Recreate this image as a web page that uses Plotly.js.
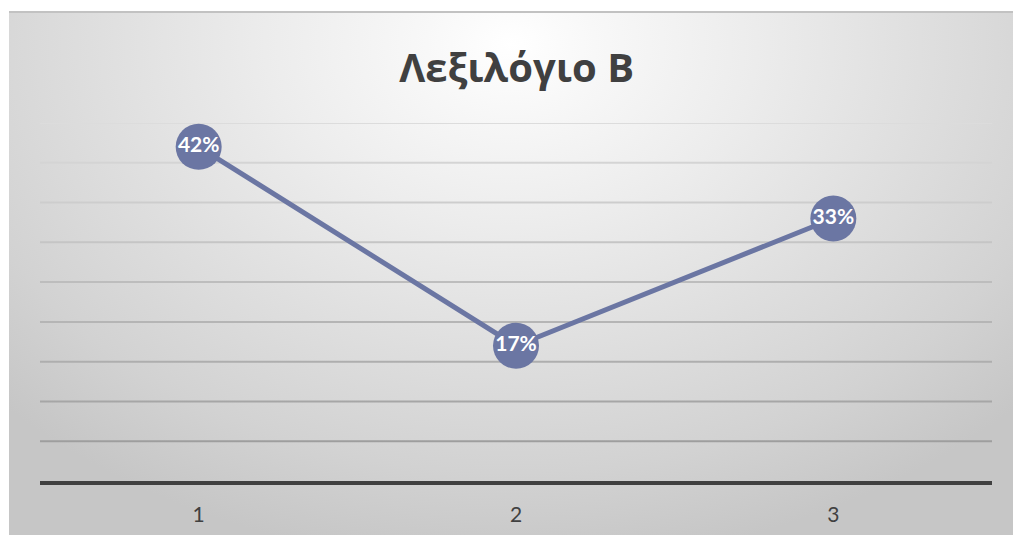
<!DOCTYPE html>
<html>
<head>
<meta charset="utf-8">
<script src="https://cdn.plot.ly/plotly-3.0.1.min.js"></script>
<style>
  html, body { margin: 0; padding: 0; background: #ffffff; }
  #wrap { position: relative; width: 1013px; height: 535px; overflow: hidden; }
  #bg {
    position: absolute; left: 9px; top: 11px; right: 0; bottom: 0;
    border-top: 2px solid #c2c2c2;
    background: radial-gradient(ellipse 70% 100% at 50% 6%,
      #ffffff 0%, #f8f8f8 12%, #ececec 35%, #dedede 60%, #d2d2d2 82%, #c6c6c6 100%);
  }
  #chart { position: absolute; left: 0; top: 0; width: 1013px; height: 535px; }
</style>
</head>
<body>
<div id="wrap">
  <div id="bg"></div>
  <div id="chart"></div>
</div>
<script>
// Category labels along the x axis
const categories = ['1', '2', '3'];
// Share of answers per category, in percent
const values = [42, 17, 33];
// Value labels drawn inside the markers
const valueLabels = values.map(v => v + '%');
// Horizontal gridline positions (percent)
const gridValues = [5, 10, 15, 20, 25, 30, 35, 40, 45];

const lineColor = '#6b76a3';

// Gridlines shade from darker near the axis to lighter near the top
function gridShade(v) {
  const t = (v - 5) / 40;
  const c = Math.round(158 + t * (220 - 158));
  return 'rgb(' + c + ',' + c + ',' + c + ')';
}
const gridShapes = gridValues.map(v => ({
  type: 'line', xref: 'paper', yref: 'y', x0: 0, x1: 1, y0: v, y1: v,
  line: { color: gridShade(v), width: 2 }, layer: 'below'
}));

const trace = {
  x: categories,
  y: values,
  text: valueLabels,
  type: 'scatter',
  mode: 'lines+markers+text',
  textposition: 'middle center',
  textfont: { family: 'Lato, "Open Sans", sans-serif', size: 21, color: '#ffffff', weight: 'bold' },
  line: { color: lineColor, width: 5 },
  marker: { color: lineColor, size: 46 },
  cliponaxis: false,
  hoverinfo: 'skip'
};

const layout = {
  width: 1013,
  height: 535,
  margin: { l: 40, r: 21, t: 123, b: 54 },
  paper_bgcolor: 'rgba(0,0,0,0)',
  plot_bgcolor: 'rgba(0,0,0,0)',
  showlegend: false,
  title: {
    text: 'Λεξιλόγιο Β',
    font: { family: '"Open Sans", sans-serif', size: 40, color: '#404040', weight: 'bold' },
    x: 0.51, xanchor: 'center',
    y: 1 - 68 / 535, yanchor: 'middle', yref: 'container'
  },
  xaxis: {
    type: 'category',
    range: [-0.5, 2.5],
    showgrid: false,
    zeroline: false,
    showline: true,
    linecolor: '#404040',
    linewidth: 4,
    ticks: '',
    ticklabelstandoff: 12,
    tickfont: { family: 'Lato, "Open Sans", sans-serif', size: 21, color: '#404040' },
    fixedrange: true
  },
  yaxis: {
    range: [0, 45],
    showgrid: false,
    zeroline: false,
    showticklabels: false,
    ticks: '',
    fixedrange: true
  },
  shapes: gridShapes
};

Plotly.newPlot('chart', [trace], layout, { displayModeBar: false, staticPlot: true });
</script>
</body>
</html>
